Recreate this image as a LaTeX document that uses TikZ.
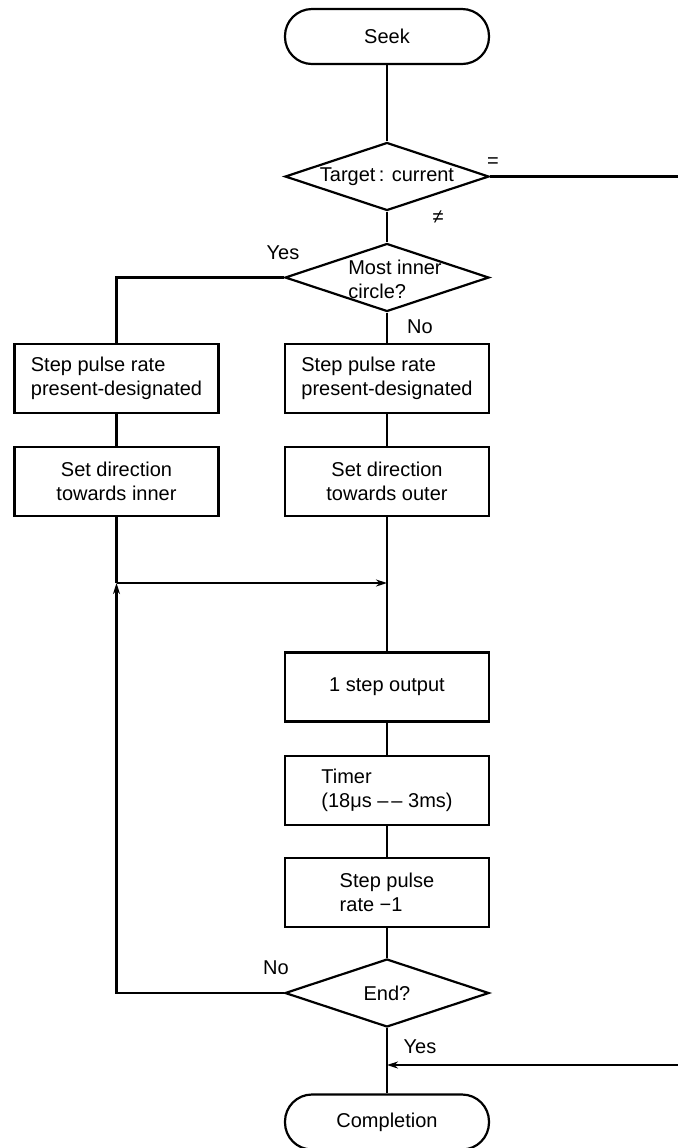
\documentclass[tikz,border=0pt]{standalone}
\usepackage{fontspec}
\setmainfont{Liberation Sans}
\usetikzlibrary{positioning, shapes.geometric, arrows.meta}

\begin{document}
\begin{tikzpicture}[x=0.5pt, y=-0.5pt, every node/.style={font=\normalsize}]
    \tikzstyle{block} = [draw, rectangle, minimum width=102pt, minimum height=34.5pt, line width=1.1pt]
    \tikzstyle{terminal} = [draw, rectangle, rounded corners=13.5pt, minimum width=102pt, minimum height=27.5pt, line width=1.1pt]
    \tikzstyle{decision} = [draw, diamond, minimum width=102pt, minimum height=34pt, inner sep=0pt, line width=1.1pt]
    \tikzstyle{line} = [line width=1.1pt]
    \tikzstyle{arrow} = [line width=1.1pt, -{Stealth[length=5.5pt, width=3.5pt]}]

    \useasboundingbox (0,0) rectangle (678,1148);

    % Seek flow, main column
    \node (seek) [terminal] at (387,36.5) {Seek};
    \node (tc) [decision, below of=seek, node distance=70pt] {};
    \node (mic) [decision, below of=tc, node distance=50.5pt] {};
    \node (sp1) [block, below of=mic, node distance=50.5pt, align=left] {Step pulse rate\\present-designated};
    \node (sd1) [block, below of=sp1, node distance=51.5pt, align=center] {Set direction\\towards outer};
    \node (so) [block, below of=sd1, node distance=102.75pt] {1 step output};
    \node (tm) [block, below of=so, node distance=51.75pt, align=left] {Timer\\(18μs –\kern1.5pt– 3ms)};
    \node (sp3) [block, below of=tm, node distance=51pt, align=left] {Step pulse\\rate −1};
    \node (ed) [decision, below of=sp3, node distance=50.25pt] {};
    \node (cp) [terminal, below of=ed, node distance=64.5pt] {Completion};

    % left column
    \node (sp2) [block, left of=sp1, node distance=135.25pt, align=left] {Step pulse rate\\present-designated};
    \node (sd2) [block, left of=sd1, node distance=135.25pt, align=center] {Set direction\\towards inner};

    % diamond texts
    \node (tctxt) at (tc) {Target\,: current};
    \node (mictxt) [align=left] at ([xshift=4pt,yshift=-1pt]mic) {Most inner\\circle?};
    \node (edtxt) at (ed) {End?};

    % labels
    \node (eqlbl) at (493,163) {=};
    \node (nelbl) at (438,217) {≠};
    \node (yes1) at (283,253) {Yes};
    \node (no1) at (420,327) {No};
    \node (no2) at (276,968) {No};
    \node (yes2) at (420,1047) {Yes};

    \coordinate (lj) at (116.5,583);
    \coordinate (mj) at (387,583);
    \coordinate (rout) at (678,176.5);
    \coordinate (rin) at (678,1065);
    \coordinate (min) at (387,1065);

    % Lines
    \draw [line] (seek) -- (tc);
    \draw [line] (tc) -- (mic);
    \draw [line] (mic) -- (sp1);
    \draw [line] (mic.west) -| (sp2);
    \draw [line] (sp1) -- (sd1);
    \draw [line] (sp2) -- (sd2);
    \draw [line] (sd2) -- (lj);
    \draw [line] (sd1) -- (so);
    \draw [line] (so) -- (tm);
    \draw [line] (tm) -- (sp3);
    \draw [line] (sp3) -- (ed);
    \draw [line] (ed) -- (cp);
    \draw [line] (tc.east) -- (rout);

    % Arrows
    \draw [arrow] (ed.west) -| (lj);
    \draw [arrow] (lj) -- (mj);
    \draw [arrow] (rin) -- (min);
\end{tikzpicture}
\end{document}
